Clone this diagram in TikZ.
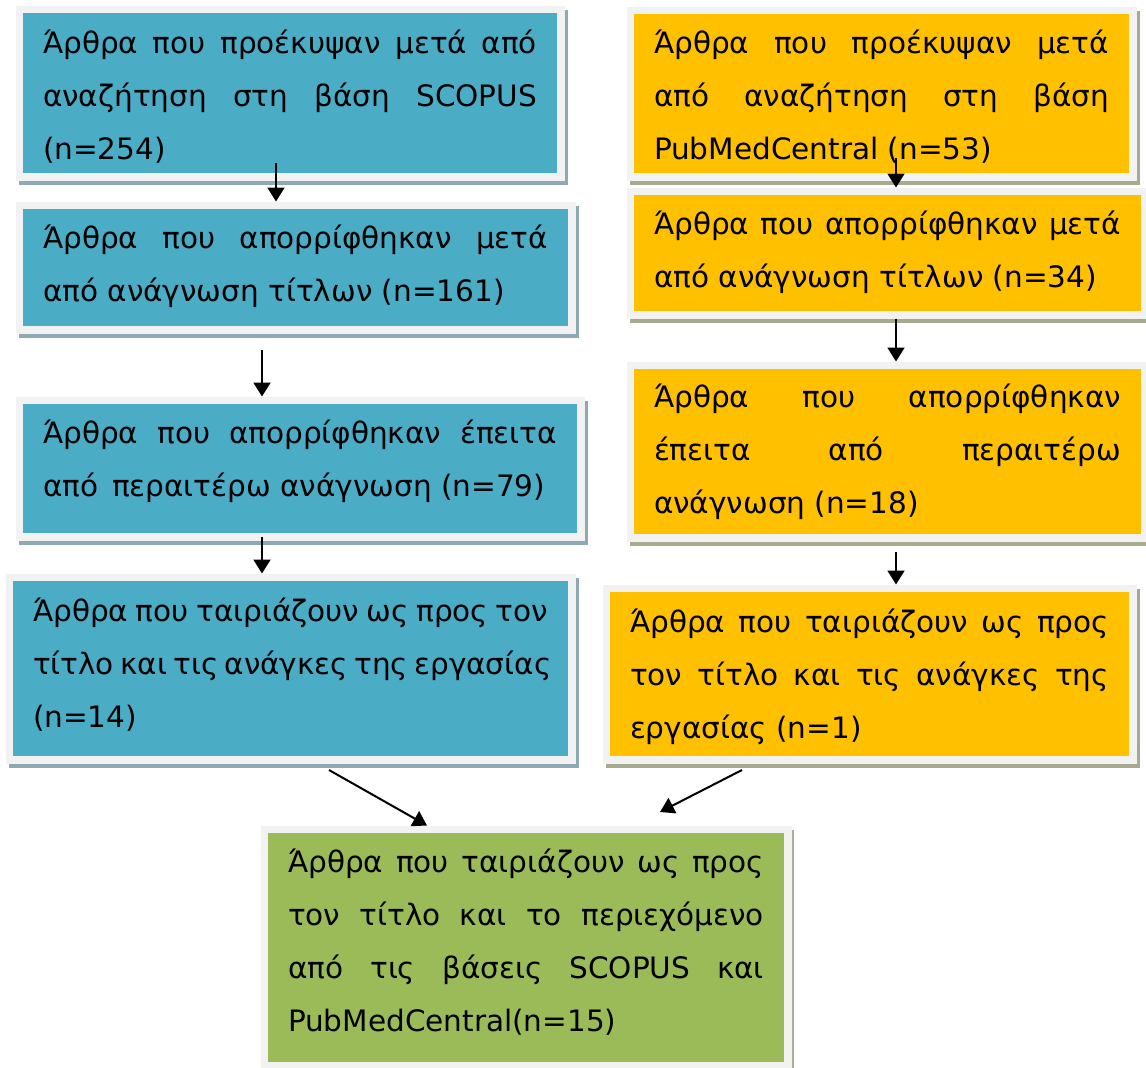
\documentclass[tikz,border=0pt]{standalone}
\usepackage{fontspec}
\setmainfont{DejaVu Sans}
\usetikzlibrary{arrows.meta}
\definecolor{bluefill}{HTML}{4BACC6}
\definecolor{orangefill}{HTML}{FFC000}
\definecolor{greenfill}{HTML}{9BBB59}
\definecolor{framecol}{HTML}{F2F2F2}
\definecolor{blueshadow}{HTML}{8FA9B4}
\definecolor{orangeshadow}{HTML}{A6AB8E}
\definecolor{greenshadow}{HTML}{AAB296}
\newcommand\jline[1]{\hbox to\hsize{\vrule height 30pt depth 10pt width 0pt\relax #1}}
\newcommand\lline[1]{\hbox to\hsize{\vrule height 30pt depth 10pt width 0pt\relax #1\hfil}}
\newcommand\tblock[2]{\vtop{\hsize=#1pt\relax\baselineskip=53pt\lineskiplimit=-100pt\lineskip=0pt #2}}
\tikzset{
  boxbase/.style={rectangle, inner sep=0pt, outer sep=3.75pt, draw=framecol, line width=7.5pt},
  bluebox/.style={boxbase, fill=bluefill, preaction={draw=blueshadow, fill=blueshadow, transform canvas={xshift=3pt,yshift=-4pt}}},
  orangebox/.style={boxbase, fill=orangefill, preaction={draw=orangeshadow, fill=orangeshadow, transform canvas={xshift=3pt,yshift=-4pt}}},
  greenbox/.style={boxbase, fill=greenfill, preaction={draw=greenshadow, fill=greenshadow, transform canvas={xshift=2pt,yshift=-4pt}}},
  txt/.style={inner sep=0pt, outer sep=0pt, anchor=north west, font=\fontsize{29.5pt}{53pt}\selectfont},
  arr/.style={line width=2pt, -{Triangle[width=17pt,length=14pt]}, black}
}
\begin{document}
\begin{tikzpicture}[x=1pt, y=-1pt]
\useasboundingbox (0,0) rectangle (1146,1068);
% boxes
\node[bluebox, minimum width=541.5pt, minimum height=167.5pt] (l1) at (290,93) {};
\node[orangebox, minimum width=502.5pt, minimum height=166.5pt] (r1) at (881.5,93.5) {};
\node[bluebox, minimum width=552.5pt, minimum height=124.5pt] (l2) at (295.5,267.5) {};
\node[orangebox, minimum width=514.5pt, minimum height=123.5pt] (r2) at (887.5,253) {};
\node[bluebox, minimum width=561.5pt, minimum height=136.5pt] (l3) at (300,468.5) {};
\node[orangebox, minimum width=514.5pt, minimum height=172.5pt] (r3) at (887.5,451.5) {};
\node[bluebox, minimum width=562.5pt, minimum height=182.5pt] (l4) at (290.5,668.5) {};
\node[orangebox, minimum width=526.5pt, minimum height=171.5pt] (r4) at (869.5,674) {};
\node[greenbox, minimum width=523.5pt, minimum height=236.5pt] (g) at (526,947.5) {};
% texts
\node[txt] (t1) at (43,23) {\tblock{494}{\jline{Άρθρα που προέκυψαν μετά από}\jline{αναζήτηση στη βάση SCOPUS}\lline{(n=254)}}};
\node[txt] (u1) at (654,23) {\tblock{455}{\jline{Άρθρα που προέκυψαν μετά}\jline{από αναζήτηση στη βάση}\lline{PubMedCentral (n=53)}}};
\node[txt] (t2) at (43,218) {\tblock{505}{\jline{Άρθρα που απορρίφθηκαν μετά}\lline{από ανάγνωση τίτλων (n=161)}}};
\node[txt] (u2) at (654,204) {\tblock{467}{\jline{Άρθρα που απορρίφθηκαν μετά}\lline{από ανάγνωση τίτλων (n=34)}}};
\node[txt] (t3) at (43,413) {\tblock{514}{\jline{Άρθρα που απορρίφθηκαν έπειτα}\lline{από\hspace{0.15em} περαιτέρω ανάγνωση (n=79)}}};
\node[txt] (u3) at (654,377) {\tblock{467}{\jline{Άρθρα που απορρίφθηκαν}\jline{έπειτα από περαιτέρω}\lline{ανάγνωση (n=18)}}};
\node[txt] (t4) at (33,591) {\tblock{515}{\jline{Άρθρα που ταιριάζουν ως προς τον}\jline{τίτλο και τις ανάγκες της εργασίας}\lline{(n=14)}}};
\node[txt] (u4) at (630,602) {\tblock{479}{\jline{Άρθρα που ταιριάζουν ως προς}\jline{τον τίτλο και τις ανάγκες της}\lline{εργασίας (n=1)}}};
\node[txt] (tg) at (288,842) {\tblock{476}{\jline{Άρθρα που ταιριάζουν ως προς}\jline{τον τίτλο και το περιεχόμενο}\jline{από τις βάσεις SCOPUS και}\lline{PubMedCentral(n=15)}}};
% arrow free ends
\coordinate (a1) at (276,163);
\coordinate (a2) at (896,158);
\coordinate (a3) at (262,350);
\coordinate (a5) at (262,537);
\coordinate (a6) at (896,552);
\coordinate (a7) at (329,770);
\coordinate (a8) at (742,770);
\coordinate (a8e) at (660,812);
% connectors
\draw[arr] (a1) -- (a1 |- l2.north);
\draw[arr] (a2) -- (a2 |- r2.north);
\draw[arr] (a3) -- (a3 |- l3.north);
\draw[arr] (r2.south -| a2) -- (r3.north -| a2);
\draw[arr] (a5) -- (a5 |- l4.north);
\draw[arr] (a6) -- (a6 |- r4.north);
\draw[arr] (a7) -- (g.north -| 427,0);
\draw[arr] (a8) -- (a8e);
\end{tikzpicture}
\end{document}
